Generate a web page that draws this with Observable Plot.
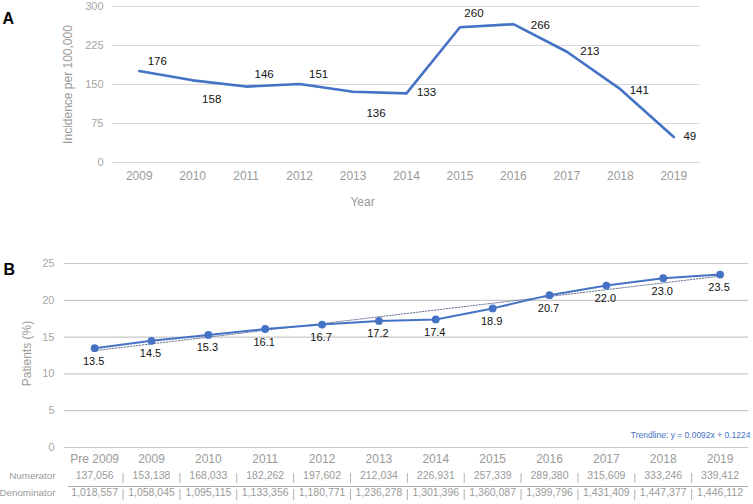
<!DOCTYPE html>
<html><head><meta charset="utf-8">
<script src="https://cdn.jsdelivr.net/npm/d3@7"></script>
<script src="https://cdn.jsdelivr.net/npm/@observablehq/plot@0.6"></script>
<style>
body{margin:0;background:#fff;font-family:"Liberation Sans",Arial,sans-serif;}
#chart svg{display:block;}
</style></head><body><div id="chart"></div>
<script>
// ---- Panel A data ----
const yearsA = ["2009","2010","2011","2012","2013","2014","2015","2016","2017","2018","2019"];
const incidence = [176, 158, 146, 151, 136, 133, 260, 266, 213, 141, 49];
const yTicksA = [0, 75, 150, 225, 300];
// label placement (px offsets) for panel A data labels
const labelOffsetA = [[18,-10],[19,19],[18,-12],[19,-10],[23,22],[20,-1],[14,-14],[27,1],[23,0],[19,1],[16,-1]];

// ---- Panel B data ----
const categoriesB = ["Pre 2009","2009","2010","2011","2012","2013","2014","2015","2016","2017","2018","2019"];
const patientsPct = [13.5, 14.5, 15.3, 16.1, 16.7, 17.2, 17.4, 18.9, 20.7, 22.0, 23.0, 23.5];
const numerators = [137056, 153138, 168033, 182262, 197602, 212034, 226931, 257339, 289380, 315609, 333246, 339412];
const denominators = [1018557, 1058045, 1095115, 1133356, 1180771, 1236278, 1301396, 1360087, 1399796, 1431409, 1447377, 1446112];
const yTicksB = [0, 5, 10, 15, 20, 25];
const trendSlope = 0.0092, trendIntercept = 0.1224;

const FONT = "'Liberation Sans', Arial, sans-serif";
const BLUE = "#4472c4";
const GREY = "#9a9a9a";
const fmt = d3.format(",");

// ---- Panel A ----
const idxA = yearsA.map((_, i) => i);
const plotA = Plot.plot({
  width: 753, height: 215,
  marginLeft: 112, marginRight: 53, marginTop: 6, marginBottom: 53,
  style: {fontFamily: FONT, background: "#fff", overflow: "visible"},
  x: {type: "linear", domain: [-0.5, yearsA.length - 0.5]},
  y: {domain: [0, 300]},
  marks: [
    Plot.ruleY(yTicksA, {stroke: "#d9d9d9", strokeWidth: 1.2}),
    Plot.axisY({ticks: yTicksA, tickSize: 0, tickPadding: 9, fontSize: 11, color: "#a6a6a6", label: null}),
    Plot.axisX({ticks: idxA, tickFormat: i => yearsA[i], tickSize: 0, tickPadding: 9, fontSize: 12, color: GREY, label: null}),
    Plot.line(idxA, {x: i => i, y: i => incidence[i], stroke: BLUE, strokeWidth: 2.6}),
    ...idxA.map(i => Plot.text([i], {x: d => d, y: d => incidence[d], text: d => String(incidence[d]),
      dx: labelOffsetA[i][0], dy: labelOffsetA[i][1], fontSize: 11.5, fill: "#111"})),
    Plot.text(["Incidence per 100,000"], {frameAnchor: "left", textAnchor: "middle", lineAnchor: "middle", rotate: -90, dx: -44, dy: 0, fontSize: 12, fill: GREY}),
    Plot.text(["Year"], {frameAnchor: "bottom", dx: -44, dy: 43, fontSize: 12, fill: GREY}),
    Plot.text(["A"], {frameAnchor: "top-left", textAnchor: "start", dx: -110, dy: 6, fontSize: 16, fontWeight: "bold", fill: "#000"})
  ]
});

// ---- Panel B ----
const idxB = categoriesB.map((_, i) => i);
const seps = idxB.slice(1).map(i => i - 0.5);
const trend = idxB.map(i => (trendSlope * (i + 1) + trendIntercept) * 100);
const plotB = Plot.plot({
  width: 753, height: 289,
  marginLeft: 64, marginRight: 5, marginTop: 48, marginBottom: 57,
  style: {fontFamily: FONT, background: "#fff", overflow: "visible"},
  x: {type: "linear", domain: [-0.53, categoriesB.length - 0.5]},
  y: {domain: [0, 25]},
  marks: [
    Plot.ruleY(yTicksB, {stroke: "#c8c8c8", strokeWidth: 1.2}),
    Plot.axisY({ticks: yTicksB, tickSize: 0, tickPadding: 10, fontSize: 11, color: "#a6a6a6", label: null}),
    Plot.axisX({ticks: idxB, tickFormat: i => categoriesB[i], tickSize: 0, tickPadding: 7, fontSize: 12, color: GREY, label: null}),
    Plot.line(idxB, {x: i => i, y: i => trend[i], stroke: "#6a7795", strokeWidth: 1, strokeDasharray: "1.5,1.5"}),
    Plot.line(idxB, {x: i => i, y: i => patientsPct[i], stroke: BLUE, strokeWidth: 2}),
    Plot.dot(idxB, {x: i => i, y: i => patientsPct[i], r: 3.9, fill: BLUE, stroke: "none"}),
    Plot.text(idxB, {x: i => i, y: i => patientsPct[i], text: i => patientsPct[i].toFixed(1), dx: -1, dy: 13, fontSize: 11, fill: "#111"}),
    Plot.text([`Trendline: y = ${trendSlope}x + ${trendIntercept}`], {frameAnchor: "bottom-right", textAnchor: "end", dx: 2, dy: -10, fontSize: 8.5, fill: BLUE}),
    Plot.text(["Patients (%)"], {frameAnchor: "left", textAnchor: "middle", lineAnchor: "middle", rotate: -90, dx: -37, dy: -2, fontSize: 12, fill: GREY}),
    Plot.text(["B"], {frameAnchor: "top-left", textAnchor: "start", dx: -61, dy: 0, fontSize: 16, fontWeight: "bold", fill: "#000"}),
    // table
    Plot.text(idxB, {x: i => i, text: i => fmt(numerators[i]), frameAnchor: "bottom", dy: 31, fontSize: 10.5, fill: GREY}),
    Plot.text(idxB, {x: i => i, text: i => fmt(denominators[i]), frameAnchor: "bottom", dy: 48, fontSize: 10.5, fill: GREY}),
    Plot.text(["Numerator"], {frameAnchor: "bottom-left", textAnchor: "end", dx: -9, dy: 31, fontSize: 9.8, fill: GREY}),
    Plot.text(["Denominator"], {frameAnchor: "bottom-left", textAnchor: "end", dx: -9, dy: 48, fontSize: 9.8, fill: GREY}),
    Plot.ruleY([0], {stroke: "#b0b0b0", strokeWidth: 1, dy: 39, insetLeft: 4}),
    Plot.ruleX(seps, {x: d => d, stroke: "#b0b0b0", strokeWidth: 1, insetTop: 210, insetBottom: -36}),
    Plot.ruleX(seps, {x: d => d, stroke: "#b0b0b0", strokeWidth: 1, insetTop: 226, insetBottom: -53})
  ]
});

const chart = document.getElementById("chart");
chart.appendChild(plotA);
chart.appendChild(plotB);
</script>
</body></html>
